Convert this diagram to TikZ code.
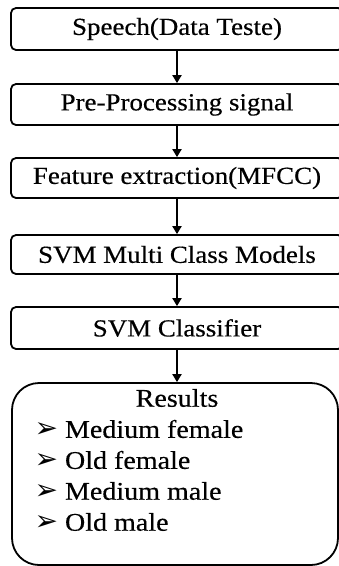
\documentclass[tikz,border=0pt]{standalone}
\usepackage{fontspec}
\setmainfont{Liberation Serif}[FakeStretch=1.1,FakeBold=0.4]
\newfontfamily\symfont{DejaVu Sans}
\usetikzlibrary{arrows.meta}
\tikzset{
  stepbox/.style={draw, line width=1.8pt, rounded corners=5pt, minimum width=332pt,
    inner sep=0pt, font=\fontsize{24.5}{28}\selectfont},
  resbox/.style={draw, line width=1.8pt, rounded corners=27pt, minimum width=326pt,
    minimum height=182pt, inner sep=0pt},
  flow/.style={line width=2.2pt, -{Triangle[length=8pt,width=9pt]}},
  bul/.style={anchor=west, font=\fontsize{25.5}{30}\selectfont}
}
\newcommand\arrbullet{{\symfont\fontsize{28}{30}\selectfont ➢}\hspace{7pt}}
\begin{document}
\begin{tikzpicture}[x=1pt,y=1pt]
\useasboundingbox (0,0) rectangle (338,-566);
\node[stepbox, minimum height=42pt] (b1) at (177,-29) {Speech(Data Teste)};
\node[stepbox, minimum height=41pt] (b2) at (177,-104.5) {Pre-Processing signal};
\node[stepbox, minimum height=40pt] (b3) at (177,-178) {Feature extraction(MFCC)};
\node[stepbox, minimum height=39pt] (b4) at (177,-254.5) {SVM Multi Class Models};
\node[stepbox, minimum height=42pt] (b5) at (177,-328) {SVM Classifier};
\node[resbox] (res) at (175,-474) {};
\node[font=\fontsize{25.5}{28}\selectfont] (rt) at (177,-398) {Results};
\node[bul] (r1) at (31,-429) {\arrbullet Medium female};
\node[bul] (r2) at (31,-460) {\arrbullet Old female};
\node[bul] (r3) at (31,-491) {\arrbullet Medium male};
\node[bul] (r4) at (31,-522) {\arrbullet Old male};
\draw[flow] (b1.south) -- (b2.north);
\draw[flow] (b2.south) -- (b3.north);
\draw[flow] (b3.south) -- (b4.north);
\draw[flow] (b4.south) -- (b5.north);
\draw[flow] (b5.south) -- (res.north -| b5.south);
\end{tikzpicture}
\end{document}
